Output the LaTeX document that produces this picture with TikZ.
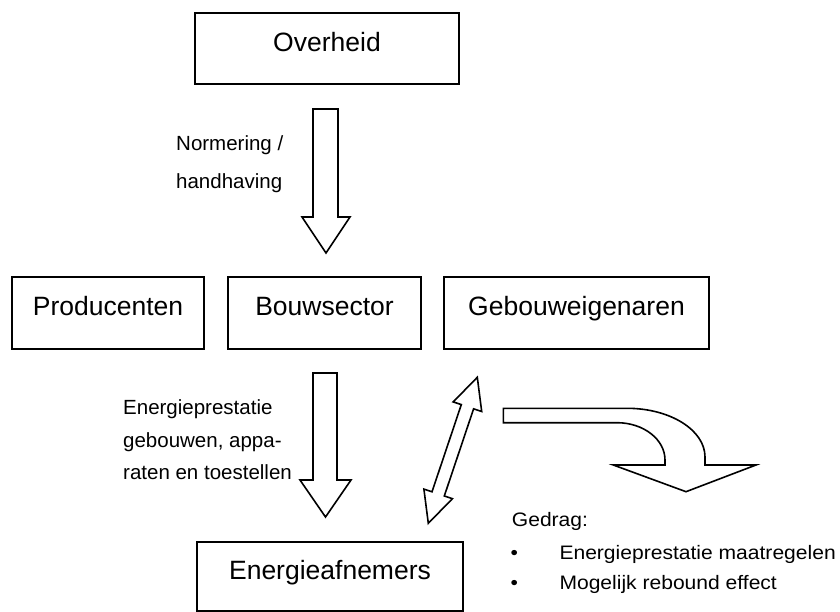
\documentclass[tikz,border=0pt]{standalone}
\usepackage{fontspec}
\setmainfont{Liberation Sans}
\begin{document}
\begin{tikzpicture}[x=1pt,y=-1pt,
  box/.style={draw, line width=1.7pt, inner sep=0pt, text height=0.75em, text depth=0.2em,
    font=\fontsize{26.5}{30}\selectfont},
  blockarrow/.style={draw, line width=1.6pt, line join=miter},
  lbl/.style={inner sep=0pt, anchor=base west, font=\fontsize{20.5}{24}\selectfont},
  note/.style={inner sep=0pt, anchor=base west, font=\fontsize{19.5}{22}\selectfont}]
\useasboundingbox (0,0) rectangle (840,612);

% actors
\node[box, minimum width=264pt, minimum height=71pt] (overheid) at (327,48.5) {Overheid};
\node[box, minimum width=192pt, minimum height=72pt] (producenten) at (108,313) {Producenten};
\node[box, minimum width=193pt, minimum height=72pt] (bouwsector) at (324.5,313) {Bouwsector};
\node[box, minimum width=265pt, minimum height=72pt] (eigenaren) at (576.5,313) {Gebouweigenaren};
\node[box, minimum width=266pt, minimum height=69pt] (afnemers) at (330,576.5) {Energieafnemers};

% labels beside the arrows
\node[lbl] (norm1) at (176,151) {Normering /};
\node[lbl] (norm2) at (176,188.5) {handhaving};
\node[lbl] (ep1) at (123,414) {Energieprestatie};
\node[lbl] (ep2) at (123,447) {gebouwen, appa-};
\node[lbl] (ep3) at (123,479.5) {raten en toestellen};

% behaviour list
\node[note] (gedrag) at (511.7,526.7) {\scalebox{1.08}[1]{Gedrag:}};
\node[note] (bul1) at (510.5,559.3) {\scalebox{1.08}[1]{•}};
\node[note] (bul2) at (510.5,589.3) {\scalebox{1.08}[1]{•}};
\node[note] (item1) at (559.3,559.3) {\scalebox{1.08}[1]{Energieprestatie maatregelen}};
\node[note] (item2) at (559.3,589.3) {\scalebox{1.08}[1]{Mogelijk rebound effect}};

% block arrow: government to building sector
\draw[blockarrow] (313,109) -- (338,109) -- (338,217) -- (350,217) -- (326,253)
  -- (302,217) -- (313,217) -- cycle;
% block arrow: building sector to energy users
\draw[blockarrow] (313,373) -- (337,373) -- (337,480) -- (351,480) -- (325.5,517)
  -- (300,480) -- (313,480) -- cycle;
% double block arrow between energy users and building owners
\draw[blockarrow] (477.3,377.3) -- (481.7,411.5) -- (473.6,408.8) -- (444.3,496.0)
  -- (452.4,498.7) -- (428.3,523.3) -- (423.9,489.1) -- (432.0,491.8)
  -- (461.3,404.6) -- (453.2,401.9) -- cycle;
% bent block arrow towards behaviour
\draw[blockarrow] (503.3,408.3) -- (627,408.3)
  .. controls (670,408.3) and (705,430) .. (705,457) -- (705,465) -- (756,465)
  -- (686,491.7) -- (613.3,465) -- (665,465) -- (665,460)
  .. controls (665,439.4) and (643.5,422.7) .. (617,422.7) -- (503.3,422.7) -- cycle;
\end{tikzpicture}
\end{document}
